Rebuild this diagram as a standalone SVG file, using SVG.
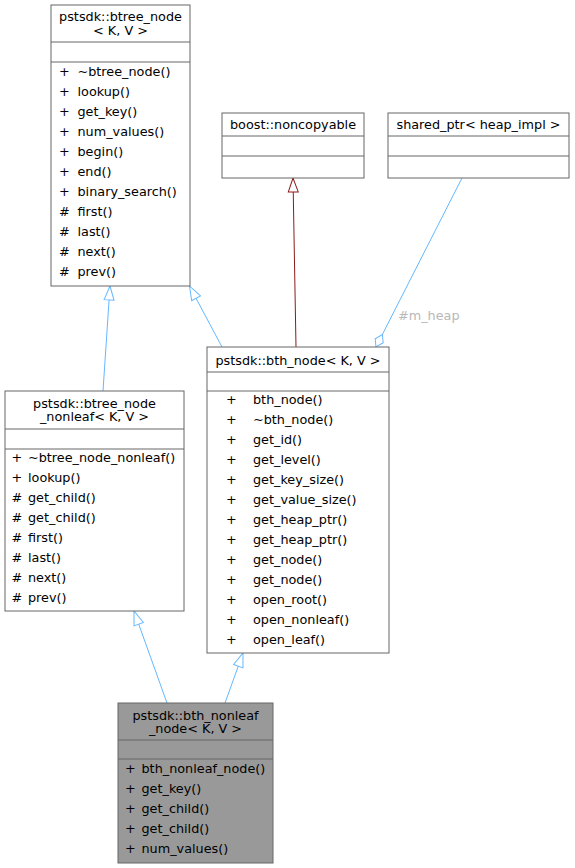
<svg xmlns="http://www.w3.org/2000/svg" width="575" height="868" viewBox="0 0 575 868">
<style>
.box{fill:#ffffff;stroke:#666666;stroke-width:1}
.hl{fill:#999999;stroke:#666666;stroke-width:1}
.sep{stroke:#666666;stroke-width:1}
text{font-family:"DejaVu Sans","Liberation Sans",sans-serif;font-size:12.8px;fill:#000000}
.c{text-anchor:middle}
.lbl{fill:#b8b8b8}
.blue{stroke:#63b8ff;stroke-width:1;fill:none}
.red{stroke:#8b1a1a;stroke-width:1;fill:none}
</style>
<defs>
<marker id="triB" markerUnits="userSpaceOnUse" markerWidth="16" markerHeight="12" refX="14" refY="5" orient="auto" viewBox="-1 -1 16 12">
<path d="M0,0 L14,5 L0,10 Z" fill="#ffffff" stroke="#63b8ff" stroke-width="1"/>
</marker>
<marker id="triR" markerUnits="userSpaceOnUse" markerWidth="16" markerHeight="12" refX="14" refY="5" orient="auto" viewBox="-1 -1 16 12">
<path d="M0,0 L14,5 L0,10 Z" fill="#ffffff" stroke="#8b1a1a" stroke-width="1"/>
</marker>
<marker id="dia" markerUnits="userSpaceOnUse" markerWidth="16" markerHeight="12" refX="0" refY="4.5" orient="auto" viewBox="-1 -1 16 12">
<path d="M0,4.5 L7,0 L14,4.5 L7,9 Z" fill="#ffffff" stroke="#63b8ff" stroke-width="1"/>
</marker>
</defs>
<rect width="575" height="868" fill="#ffffff"/>
<g id="connectors">
<line class="blue" x1="103" y1="391" x2="110" y2="286" marker-end="url(#triB)"/>
<line class="blue" x1="222" y1="347" x2="189.5" y2="286" marker-end="url(#triB)"/>
<line class="red" x1="296" y1="347" x2="293" y2="178" marker-end="url(#triR)"/>
<line class="blue" x1="376" y1="347" x2="462" y2="178" marker-start="url(#dia)"/>
<text class="lbl" x="398" y="320">#m_heap</text>
<line class="blue" x1="167" y1="703" x2="134" y2="611" marker-end="url(#triB)"/>
<line class="blue" x1="225" y1="703" x2="243" y2="653" marker-end="url(#triB)"/>
</g>
<g id="btree_node">
<rect class="box" x="51" y="5" width="139" height="281"/>
<line class="sep" x1="51" y1="42" x2="190" y2="42"/>
<line class="sep" x1="51" y1="62" x2="190" y2="62"/>
<text class="c" x="120.5" y="21">pstsdk::btree_node</text>
<text class="c" x="120.5" y="35">&lt; K, V &gt;</text>
<text x="59" y="76">+</text><text x="77.5" y="76">~btree_node()</text>
<text x="59" y="96">+</text><text x="77.5" y="96">lookup()</text>
<text x="59" y="116">+</text><text x="77.5" y="116">get_key()</text>
<text x="59" y="136">+</text><text x="77.5" y="136">num_values()</text>
<text x="59" y="156">+</text><text x="77.5" y="156">begin()</text>
<text x="59" y="176">+</text><text x="77.5" y="176">end()</text>
<text x="59" y="196">+</text><text x="77.5" y="196">binary_search()</text>
<text x="59" y="216">#</text><text x="77.5" y="216">first()</text>
<text x="59" y="236">#</text><text x="77.5" y="236">last()</text>
<text x="59" y="256">#</text><text x="77.5" y="256">next()</text>
<text x="59" y="276">#</text><text x="77.5" y="276">prev()</text>
</g>
<g id="noncopyable">
<rect class="box" x="222" y="113" width="142" height="65"/>
<line class="sep" x1="222" y1="136" x2="364" y2="136"/>
<line class="sep" x1="222" y1="156" x2="364" y2="156"/>
<text class="c" x="293" y="129">boost::noncopyable</text>
</g>
<g id="shared_ptr">
<rect class="box" x="388" y="113" width="181" height="65"/>
<line class="sep" x1="388" y1="136" x2="569" y2="136"/>
<line class="sep" x1="388" y1="156" x2="569" y2="156"/>
<text class="c" x="478.5" y="129">shared_ptr&lt; heap_impl &gt;</text>
</g>
<g id="bth_node">
<rect class="box" x="207" y="347" width="182" height="306"/>
<line class="sep" x1="207" y1="372" x2="389" y2="372"/>
<line class="sep" x1="207" y1="391" x2="389" y2="391"/>
<text class="c" x="298" y="365">pstsdk::bth_node&lt; K, V &gt;</text>
<text x="226" y="404">+</text><text x="253" y="404">bth_node()</text>
<text x="226" y="424">+</text><text x="253" y="424">~bth_node()</text>
<text x="226" y="444">+</text><text x="253" y="444">get_id()</text>
<text x="226" y="464">+</text><text x="253" y="464">get_level()</text>
<text x="226" y="484">+</text><text x="253" y="484">get_key_size()</text>
<text x="226" y="504">+</text><text x="253" y="504">get_value_size()</text>
<text x="226" y="524">+</text><text x="253" y="524">get_heap_ptr()</text>
<text x="226" y="544">+</text><text x="253" y="544">get_heap_ptr()</text>
<text x="226" y="564">+</text><text x="253" y="564">get_node()</text>
<text x="226" y="584">+</text><text x="253" y="584">get_node()</text>
<text x="226" y="604">+</text><text x="253" y="604">open_root()</text>
<text x="226" y="624">+</text><text x="253" y="624">open_nonleaf()</text>
<text x="226" y="644">+</text><text x="253" y="644">open_leaf()</text>
</g>
<g id="btree_node_nonleaf">
<rect class="box" x="5" y="391" width="179" height="220"/>
<line class="sep" x1="5" y1="429" x2="184" y2="429"/>
<line class="sep" x1="5" y1="449" x2="184" y2="449"/>
<text class="c" x="94.5" y="407.5">pstsdk::btree_node</text>
<text class="c" x="94.5" y="421">_nonleaf&lt; K, V &gt;</text>
<text x="11.5" y="462">+</text><text x="28" y="462">~btree_node_nonleaf()</text>
<text x="11.5" y="482">+</text><text x="28" y="482">lookup()</text>
<text x="11.5" y="502">#</text><text x="28" y="502">get_child()</text>
<text x="11.5" y="522">#</text><text x="28" y="522">get_child()</text>
<text x="11.5" y="542">#</text><text x="28" y="542">first()</text>
<text x="11.5" y="562">#</text><text x="28" y="562">last()</text>
<text x="11.5" y="582">#</text><text x="28" y="582">next()</text>
<text x="11.5" y="602">#</text><text x="28" y="602">prev()</text>
</g>
<g id="bth_nonleaf_node">
<rect class="hl" x="118" y="703" width="155" height="160"/>
<line class="sep" x1="118" y1="740" x2="273" y2="740"/>
<line class="sep" x1="118" y1="759" x2="273" y2="759"/>
<text class="c" x="195.5" y="719.5">pstsdk::bth_nonleaf</text>
<text class="c" x="195.5" y="733">_node&lt; K, V &gt;</text>
<text x="125" y="773">+</text><text x="141.5" y="773">bth_nonleaf_node()</text>
<text x="125" y="793">+</text><text x="141.5" y="793">get_key()</text>
<text x="125" y="813">+</text><text x="141.5" y="813">get_child()</text>
<text x="125" y="833">+</text><text x="141.5" y="833">get_child()</text>
<text x="125" y="853">+</text><text x="141.5" y="853">num_values()</text>
</g>
</svg>
